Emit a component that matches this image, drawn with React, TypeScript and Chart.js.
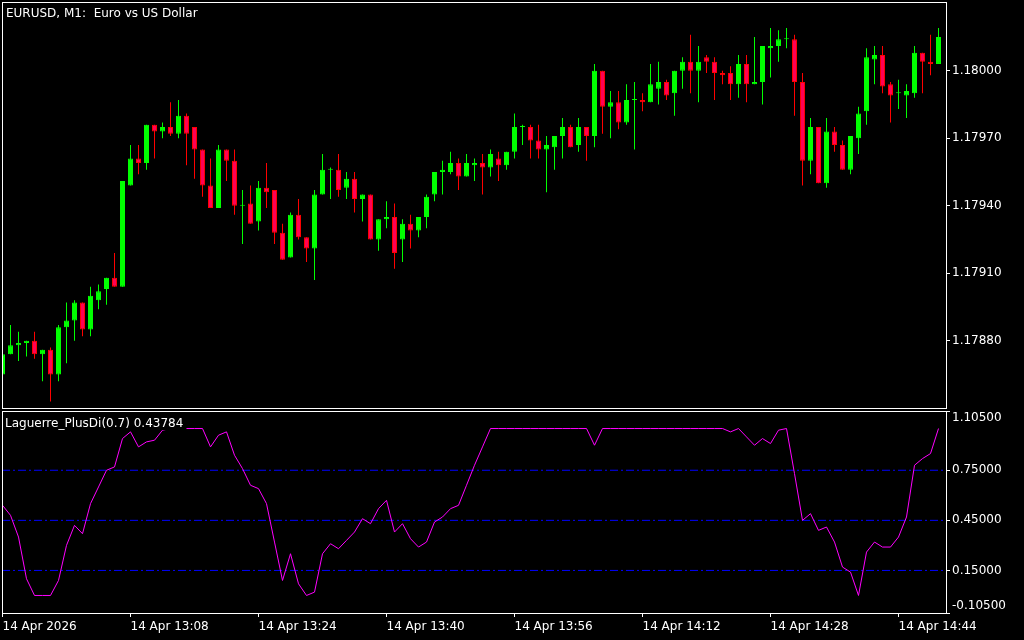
import React, { useEffect, useRef } from 'react';
import { Chart, registerables } from 'chart.js';

Chart.register(...registerables);

const FONT = '"DejaVu Sans", sans-serif';

const titleText = 'EURUSD, M1:  Euro vs US Dollar';
const indicatorText = 'Laguerre_PlusDi(0.7) 0.43784';

const openP = [
  1.17865, 1.17874, 1.17878, 1.17879, 1.17880, 1.17874, 1.17876, 1.17865, 1.17886, 1.17889,
  1.17897, 1.17885, 1.17898, 1.17903, 1.17908, 1.17904, 1.17949, 1.17961, 1.17959, 1.17976,
  1.17973, 1.17975, 1.17972, 1.17980, 1.17975, 1.17965, 1.17949, 1.17939, 1.17965, 1.17960,
  1.17940, 1.17941, 1.17933, 1.17948, 1.17947, 1.17928, 1.17917, 1.17936, 1.17926, 1.17921,
  1.17945, 1.17956, 1.17956, 1.17948, 1.17952, 1.17943, 1.17945, 1.17925, 1.17934, 1.17935,
  1.17925, 1.17932, 1.17929, 1.17935, 1.17945, 1.17955, 1.17955, 1.17959, 1.17953, 1.17958,
  1.17959, 1.17957, 1.17961, 1.17958, 1.17964, 1.17975, 1.17975, 1.17969, 1.17965, 1.17966,
  1.17971, 1.17975, 1.17967, 1.17975, 1.17971, 1.18000, 1.17984, 1.17986, 1.17977, 1.17987,
  1.17987, 1.17986, 1.17992, 1.17995, 1.17990, 1.18000, 1.18004, 1.18000, 1.18006, 1.18004,
  1.17999, 1.17999, 1.17994, 1.18003, 1.17994, 1.17995, 1.18010, 1.18011, 1.18014, 1.18014,
  1.17995, 1.17960, 1.17975, 1.17950, 1.17973, 1.17967, 1.17956, 1.17970, 1.17982, 1.18005,
  1.18007, 1.17994, 1.17990, 1.17989, 1.17990, 1.18008, 1.18004, 1.18003,
];

const highP = [
  1.17874, 1.17887, 1.17884, 1.17880, 1.17884, 1.17876, 1.17877, 1.17887, 1.17897, 1.17898,
  1.17897, 1.17904, 1.17905, 1.17908, 1.17919, 1.17951, 1.17967, 1.17967, 1.17976, 1.17976,
  1.17977, 1.17986, 1.17987, 1.17981, 1.17975, 1.17965, 1.17961, 1.17967, 1.17965, 1.17965,
  1.17947, 1.17949, 1.17951, 1.17959, 1.17947, 1.17932, 1.17937, 1.17943, 1.17926, 1.17947,
  1.17963, 1.17957, 1.17963, 1.17955, 1.17955, 1.17945, 1.17945, 1.17934, 1.17942, 1.17941,
  1.17934, 1.17936, 1.17935, 1.17945, 1.17955, 1.17960, 1.17964, 1.17961, 1.17963, 1.17961,
  1.17963, 1.17965, 1.17964, 1.17964, 1.17981, 1.17976, 1.17976, 1.17976, 1.17971, 1.17971,
  1.17979, 1.17976, 1.17979, 1.17975, 1.18003, 1.18000, 1.17991, 1.17991, 1.17994, 1.17995,
  1.17990, 1.18003, 1.18004, 1.17996, 1.18000, 1.18006, 1.18016, 1.18011, 1.18007, 1.18006,
  1.18000, 1.18002, 1.18007, 1.18007, 1.18015, 1.18011, 1.18019, 1.18018, 1.18019, 1.18016,
  1.17999, 1.17979, 1.17975, 1.17979, 1.17975, 1.17969, 1.17971, 1.17984, 1.18010, 1.18011,
  1.18011, 1.17995, 1.17996, 1.17994, 1.18011, 1.18008, 1.18016, 1.18019,
];

const lowP = [
  1.17865, 1.17874, 1.17871, 1.17873, 1.17872, 1.17862, 1.17853, 1.17862, 1.17870, 1.17880,
  1.17882, 1.17882, 1.17894, 1.17896, 1.17904, 1.17904, 1.17949, 1.17954, 1.17956, 1.17961,
  1.17970, 1.17971, 1.17970, 1.17958, 1.17952, 1.17944, 1.17939, 1.17939, 1.17951, 1.17936,
  1.17923, 1.17932, 1.17929, 1.17939, 1.17923, 1.17916, 1.17917, 1.17925, 1.17915, 1.17907,
  1.17945, 1.17943, 1.17944, 1.17943, 1.17937, 1.17933, 1.17925, 1.17920, 1.17930, 1.17912,
  1.17915, 1.17921, 1.17926, 1.17930, 1.17942, 1.17945, 1.17954, 1.17947, 1.17953, 1.17951,
  1.17945, 1.17953, 1.17951, 1.17956, 1.17961, 1.17967, 1.17961, 1.17961, 1.17946, 1.17956,
  1.17961, 1.17966, 1.17964, 1.17960, 1.17966, 1.17972, 1.17970, 1.17974, 1.17976, 1.17965,
  1.17982, 1.17986, 1.17985, 1.17987, 1.17980, 1.17992, 1.17990, 1.17986, 1.17999, 1.17987,
  1.17994, 1.17987, 1.17988, 1.17986, 1.17994, 1.17985, 1.17997, 1.18004, 1.18010, 1.17980,
  1.17949, 1.17954, 1.17950, 1.17948, 1.17964, 1.17956, 1.17954, 1.17963, 1.17976, 1.17994,
  1.17990, 1.17977, 1.17983, 1.17979, 1.17988, 1.17990, 1.17998, 1.18003,
];

const closeP = [
  1.17874, 1.17878, 1.17879, 1.17880, 1.17874, 1.17876, 1.17865, 1.17886, 1.17889, 1.17897,
  1.17885, 1.17900, 1.17902, 1.17908, 1.17904, 1.17951, 1.17961, 1.17959, 1.17976, 1.17973,
  1.17975, 1.17972, 1.17980, 1.17972, 1.17965, 1.17949, 1.17939, 1.17965, 1.17960, 1.17940,
  1.17940, 1.17932, 1.17948, 1.17946, 1.17928, 1.17916, 1.17936, 1.17926, 1.17921, 1.17945,
  1.17956, 1.17956, 1.17947, 1.17952, 1.17943, 1.17945, 1.17925, 1.17934, 1.17935, 1.17919,
  1.17932, 1.17929, 1.17935, 1.17944, 1.17955, 1.17956, 1.17959, 1.17953, 1.17959, 1.17959,
  1.17957, 1.17963, 1.17958, 1.17964, 1.17975, 1.17975, 1.17969, 1.17965, 1.17967, 1.17971,
  1.17975, 1.17966, 1.17975, 1.17971, 1.18000, 1.17984, 1.17986, 1.17977, 1.17987, 1.17987,
  1.17986, 1.17994, 1.17995, 1.17989, 1.18000, 1.18004, 1.18000, 1.18004, 1.18004, 1.17999,
  1.17998, 1.17994, 1.18003, 1.17994, 1.17995, 1.18011, 1.18011, 1.18014, 1.18014, 1.17995,
  1.17960, 1.17975, 1.17950, 1.17973, 1.17967, 1.17956, 1.17971, 1.17981, 1.18006, 1.18007,
  1.17993, 1.17989, 1.17990, 1.17991, 1.18008, 1.18004, 1.18003, 1.18015,
];

const laguerrePlusDi = [
  0.54, 0.48, 0.35, 0.10, 0.00, 0.00, 0.00, 0.09, 0.30, 0.42,
  0.37, 0.55, 0.65, 0.75, 0.77, 0.94, 0.98, 0.89, 0.92, 0.93,
  0.99, 1.00, 1.00, 1.00, 1.00, 1.00, 0.89, 0.96, 0.98, 0.84,
  0.76, 0.66, 0.64, 0.55, 0.32, 0.09, 0.25, 0.07, 0.00, 0.02,
  0.25, 0.31, 0.28, 0.33, 0.38, 0.46, 0.43, 0.52, 0.57, 0.38,
  0.43, 0.34, 0.29, 0.32, 0.44, 0.47, 0.52, 0.54, 0.66, 0.78,
  0.89, 1.00, 1.00, 1.00, 1.00, 1.00, 1.00, 1.00, 1.00, 1.00,
  1.00, 1.00, 1.00, 1.00, 0.90, 1.00, 1.00, 1.00, 1.00, 1.00,
  1.00, 1.00, 1.00, 1.00, 1.00, 1.00, 1.00, 1.00, 1.00, 1.00,
  1.00, 0.98, 1.00, 0.95, 0.90, 0.94, 0.91, 0.99, 1.00, 0.73,
  0.45, 0.49, 0.39, 0.41, 0.32, 0.17, 0.14, 0.00, 0.26, 0.32,
  0.29, 0.29, 0.35, 0.47, 0.78, 0.82, 0.85, 1.00,
];

const levelValues = [0.15, 0.45, 0.75];
const priceTicks = [1.1788, 1.1791, 1.1794, 1.1797, 1.18];
const indicatorTicks = [-0.105, 0.15, 0.45, 0.75, 1.105];
const timeTickIndex = [0, 16, 32, 48, 64, 80, 96, 112];
const timeTickLabels = [
  '14 Apr 2026', '14 Apr 13:08', '14 Apr 13:24', '14 Apr 13:40',
  '14 Apr 13:56', '14 Apr 14:12', '14 Apr 14:28', '14 Apr 14:44',
];

const X_MIN = -0.0625;
const X_MAX = 117.9375;
const P_MIN = 1.1784964;
const P_MAX = 1.1803053;
const I_MIN = -0.105;
const I_MAX = 1.105;

const GREEN = '#00FF00';
const RED_BORDER = '#FF0000';
const RED_FILL = '#FF0055';
const WHITE = '#FFFFFF';

const noPadding = (s: any) => {
  s.paddingTop = 0;
  s.paddingBottom = 0;
  s.paddingLeft = 0;
  s.paddingRight = 0;
};

const framePlugin = (insetBottom: number) => ({
  id: 'frame',
  afterDraw(chart: any) {
    const { ctx, chartArea: a } = chart;
    ctx.save();
    ctx.strokeStyle = WHITE;
    ctx.lineWidth = 1;
    ctx.strokeRect(a.left + 0.5, a.top + 0.5, a.right - a.left, a.bottom - a.top - insetBottom);
    ctx.restore();
  },
});

export default function App() {
  const topRef = useRef<HTMLCanvasElement>(null);
  const botRef = useRef<HTMLCanvasElement>(null);

  useEffect(() => {
    document.body.style.margin = '0';
    document.body.style.background = '#000';
    Chart.defaults.font.family = FONT;

    const bull = closeP.map((c, i) => c >= openP[i]);
    const bodyData = openP.map((o, i) => ({ x: i, y: [Math.min(o, closeP[i]), Math.max(o, closeP[i])] }));
    const wickData = lowP.map((l, i) => ({ x: i, y: [l, highP[i]] }));

    const titlePlugin = {
      id: 'title',
      afterDraw(chart: any) {
        const ctx = chart.ctx;
        ctx.save();
        ctx.font = `12px ${FONT}`;
        ctx.fillStyle = WHITE;
        ctx.textBaseline = 'alphabetic';
        ctx.textAlign = 'left';
        ctx.fillText(titleText, 6, 17);
        ctx.restore();
      },
    };

    const top = new Chart(topRef.current!, {
      type: 'bar',
      data: {
        datasets: [
          {
            data: bodyData as any,
            backgroundColor: bull.map((b) => (b ? GREEN : RED_FILL)),
            borderColor: bull.map((b) => (b ? GREEN : RED_BORDER)),
            borderWidth: 1,
            borderSkipped: false,
            maxBarThickness: 5,
            grouped: false,
            minBarLength: 1,
            inflateAmount: 0,
          } as any,
          {
            data: wickData as any,
            backgroundColor: bull.map((b) => (b ? GREEN : RED_BORDER)),
            borderWidth: 0,
            maxBarThickness: 1,
            grouped: false,
            minBarLength: 1,
            inflateAmount: 0,
          } as any,
        ],
      },
      options: {
        responsive: false,
        animation: false,
        events: [],
        layout: { padding: { left: 2, top: 2, right: 0, bottom: 1 } },
        plugins: { legend: { display: false }, tooltip: { enabled: false } },
        scales: {
          x: {
            type: 'linear',
            min: X_MIN,
            max: X_MAX,
            bounds: 'data',
            offset: false,
            display: false,
            grid: { offset: false },
          } as any,
          y: {
            type: 'linear',
            position: 'right',
            min: P_MIN,
            max: P_MAX,
            bounds: 'data',
            beginAtZero: false,
            afterBuildTicks: (s: any) => {
              s.ticks = priceTicks.map((v) => ({ value: v }));
            },
            afterFit: (s: any) => {
              s.width = 78;
              noPadding(s);
            },
            ticks: {
              autoSkip: false,
              color: WHITE,
              padding: 2,
              font: { family: FONT, size: 12 },
              callback: (v: any) => Number(v).toFixed(5),
            },
            grid: { drawOnChartArea: false, drawTicks: true, tickLength: 4, tickColor: WHITE, color: WHITE },
            border: { display: false },
          } as any,
        },
      },
      plugins: [framePlugin(1), titlePlugin],
    });

    const labelPlugin = {
      id: 'indLabel',
      afterDatasetsDraw(chart: any) {
        const ctx = chart.ctx;
        ctx.save();
        ctx.font = `12px ${FONT}`;
        const w = ctx.measureText(indicatorText).width;
        ctx.fillStyle = '#000000';
        ctx.fillRect(3, 2, w + 5, 18);
        ctx.fillStyle = WHITE;
        ctx.textBaseline = 'alphabetic';
        ctx.textAlign = 'left';
        ctx.fillText(indicatorText, 5, 17);
        ctx.restore();
      },
    };

    const bottom = new Chart(botRef.current!, {
      type: 'line',
      data: {
        datasets: [
          {
            data: laguerrePlusDi.map((v, i) => ({ x: i, y: v })),
            borderColor: '#FF00FF',
            borderWidth: 1,
            pointRadius: 0,
            tension: 0,
          },
          ...levelValues.map((lv) => ({
            data: [
              { x: X_MIN, y: lv },
              { x: X_MAX, y: lv },
            ],
            borderColor: '#0000FF',
            borderWidth: 1,
            borderDash: [8, 3, 2, 3],
            pointRadius: 0,
          })),
        ],
      },
      options: {
        responsive: false,
        animation: false,
        events: [],
        layout: { padding: { left: 2, top: 1, right: 0, bottom: 0 } },
        plugins: { legend: { display: false }, tooltip: { enabled: false } },
        scales: {
          x: {
            type: 'linear',
            min: X_MIN,
            max: X_MAX,
            bounds: 'data',
            offset: false,
            afterBuildTicks: (s: any) => {
              s.ticks = timeTickIndex.map((v) => ({ value: v }));
            },
            afterFit: (s: any) => {
              s.height = 27;
              noPadding(s);
            },
            ticks: {
              autoSkip: false,
              maxRotation: 0,
              minRotation: 0,
              align: 'start',
              color: WHITE,
              padding: 3,
              font: { family: FONT, size: 12 },
              callback: (_v: any, idx: number) => timeTickLabels[idx],
            },
            grid: { drawOnChartArea: false, drawTicks: true, tickLength: 4, tickColor: WHITE, color: WHITE, offset: false },
            border: { display: false },
          } as any,
          y: {
            type: 'linear',
            position: 'right',
            min: I_MIN,
            max: I_MAX,
            bounds: 'data',
            afterBuildTicks: (s: any) => {
              s.ticks = indicatorTicks.map((v) => ({ value: v }));
            },
            afterFit: (s: any) => {
              s.width = 78;
              noPadding(s);
            },
            ticks: {
              autoSkip: false,
              color: WHITE,
              padding: 2,
              font: { family: FONT, size: 12 },
              callback: (v: any, idx: number, arr: any[]) => {
                const t = Number(v).toFixed(5);
                if (idx === arr.length - 1) return ['', t];
                if (idx === 0) return [t, ''];
                return t;
              },
            },
            grid: { drawOnChartArea: false, drawTicks: true, tickLength: 4, tickColor: WHITE, color: WHITE },
            border: { display: false },
          } as any,
        },
      },
      plugins: [framePlugin(0), labelPlugin],
    });

    return () => {
      top.destroy();
      bottom.destroy();
    };
  }, []);

  return (
    <div style={{ position: 'absolute', left: 0, top: 0, width: 1024, height: 640, background: '#000', overflow: 'hidden' }}>
      <canvas ref={topRef} width={1024} height={410} style={{ display: 'block', width: 1024, height: 410 }} />
      <canvas ref={botRef} width={1024} height={230} style={{ display: 'block', width: 1024, height: 230 }} />
    </div>
  );
}
